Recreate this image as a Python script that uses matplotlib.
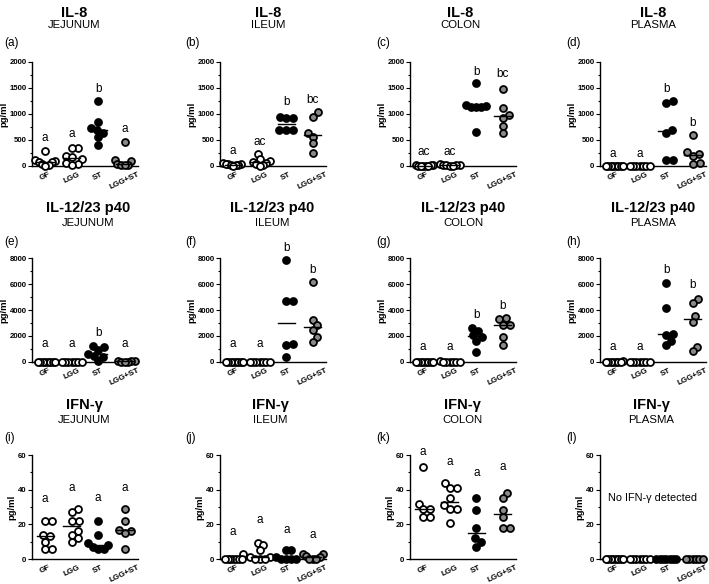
"""Cytokine dot plots, 3 x 4 panels"""

import numpy as np
import matplotlib
matplotlib.use('Agg')
import matplotlib.pyplot as plt
from matplotlib.ticker import AutoMinorLocator

plt.rcParams['font.family'] = ['Liberation Sans', 'DejaVu Sans']

groups = ['GF', 'LGG', 'ST', 'LGG+ST']
cytokines = ['IL-8', 'IL-12/23 p40', 'IFN-\u03b3']
sites = ['JEJUNUM', 'ILEUM', 'COLON', 'PLASMA']
panel_ids = list('abcdefghijkl')
y_ticks = [[0, 500, 1000, 1500, 2000],
           [0, 2000, 4000, 6000, 8000],
           [0, 20, 40, 60]]

# IL-8 (pg/ml)
il8_jejunum = [[290, 110, 100, 80, 70, 40, 10, 0],
               [350, 340, 190, 170, 130, 60, 40, 10],
               [1250, 840, 730, 700, 640, 550, 400],
               [470, 120, 100, 30, 25, 20, 10]]
il8_ileum = [[50, 40, 30, 30, 20, 10, 10, 0],
             [240, 130, 90, 80, 60, 30, 10, 0],
             [950, 930, 930, 700, 700, 700],
             [1030, 950, 630, 565, 435, 245]]
il8_colon = [[20, 10, 10, 5, 0, 0, 0, 0],
             [30, 20, 20, 10, 10, 0, 0],
             [1600, 1170, 1150, 1140, 1130, 1130, 660],
             [1480, 1125, 985, 925, 775, 630]]
il8_plasma = [[0, 0, 0, 0, 0, 0, 0, 0],
              [0, 0, 0, 0, 0, 0, 0],
              [1250, 1210, 700, 640, 125, 125],
              [600, 260, 230, 200, 50, 40]]

# IL-12/23 p40 (pg/ml)
p40_jejunum = [[0, 0, 0, 0, 0, 0, 0, 0],
               [0, 0, 0, 0, 0, 0, 0],
               [1200, 1150, 900, 650, 500, 400, 100],
               [100, 80, 50, 30, 20, 10]]
p40_ileum = [[0, 0, 0, 0, 0, 0, 0, 0],
             [0, 0, 0, 0, 0, 0, 0],
             [7850, 4720, 4700, 1370, 1270, 355],
             [6150, 3225, 2845, 2465, 1955, 1575]]
p40_colon = [[0, 0, 0, 0, 0, 0, 0, 0],
             [50, 0, 0, 0, 0, 0, 0],
             [2650, 2420, 2050, 1900, 1580, 740],
             [3420, 3290, 2860, 2850, 1960, 1330]]
p40_plasma = [[50, 0, 0, 0, 0, 0, 0, 0],
              [0, 0, 0, 0, 0, 0, 0],
              [6100, 4120, 2150, 2100, 1620, 1270],
              [4880, 4520, 3550, 3050, 1190, 810]]

# IFN-gamma (pg/ml)
ifn_jejunum = [[22, 22, 14, 13, 10, 6, 6],
               [29, 27, 22, 22, 16, 14, 12, 10],
               [22, 14, 9, 8, 7, 6, 6],
               [29, 22, 17, 16, 15, 6]]
ifn_ileum = [[3, 0, 0, 0, 0, 0, 0, 0],
             [9, 8, 5, 1, 1, 0, 0, 0],
             [5, 5, 1, 0, 0, 0, 0],
             [3, 3, 2, 1, 0, 0, 0]]
ifn_colon = [[53, 32, 29, 29, 24, 24],
             [44, 41, 41, 35, 31, 29, 29, 21],
             [35, 28, 18, 12, 10, 7],
             [38, 35, 28, 24, 18, 18]]
ifn_plasma = [[0, 0, 0, 0, 0, 0, 0, 0],
              [0, 0, 0, 0, 0, 0, 0],
              [0, 0, 0, 0, 0, 0, 0],
              [0, 0, 0, 0, 0, 0]]

panel_data = [il8_jejunum, il8_ileum, il8_colon, il8_plasma,
              p40_jejunum, p40_ileum, p40_colon, p40_plasma,
              ifn_jejunum, ifn_ileum, ifn_colon, ifn_plasma]

# significance letters and the height they were placed at
letters = [['a', 'a', 'b', 'a'], ['a', 'ac', 'b', 'bc'],
           ['ac', 'ac', 'b', 'bc'], ['a', 'a', 'b', 'b'],
           ['a', 'a', 'b', 'a'], ['a', 'a', 'b', 'b'],
           ['a', 'a', 'b', 'b'], ['a', 'a', 'b', 'b'],
           ['a', 'a', 'a', 'a'], ['a', 'a', 'a', 'a'],
           ['a', 'a', 'a', 'a'], None]
letter_y = [[540, 610, 1490, 720], [295, 455, 1225, 1275],
            [268, 268, 1815, 1765], [237, 237, 1490, 835],
            [1350, 1350, 2250, 1350], [1400, 1400, 8740, 7040],
            [1150, 1150, 3620, 4330], [1140, 1140, 7110, 5920],
            [34.4, 40.8, 35.0, 40.8], [15.5, 22.6, 16.5, 13.6],
            [61.5, 55.8, 49.7, 53.3], None]

FIG_W, FIG_H = 709, 584
AX_LEFT = [32, 220, 410, 600]
AX_TOP = [62, 258, 455]
AX_W, AX_H = 106, 104
TITLE_X = [[74, 268, 460, 653], [88, 272, 463, 653], [84, 270, 462, 651]]
TITLE_Y = [13, 208, 405]
SUB_Y = [25, 223, 420]
LABEL_X = [4, 185, 376, 566]
LABEL_Y = [43, 242, 438]
FACES = ['white', 'white', 'black', '#8a8a8a']


def swarm(vals, ymax, d=6.8, unit=AX_W / 4, limit=0.38):
    """Simple beeswarm offsets (in category units)"""
    ys = np.asarray(vals, float) / ymax * AX_H
    xs = np.zeros(len(ys))
    placed = []
    for i in np.argsort(ys, kind='stable'):
        y = ys[i]
        cands = [0.0]
        for px, py in placed:
            dy = y - py
            if abs(dy) < d:
                dx = np.sqrt(d ** 2 - dy ** 2)
                cands += [px + dx, px - dx]
        cands.sort(key=lambda c: (round(abs(c), 6), -c))
        for c in cands:
            if all((c - px) ** 2 + (y - py) ** 2 >= d ** 2 - 1e-6
                   for px, py in placed):
                xs[i] = c
                placed.append((c, y))
                break
    xs = xs / unit
    m = np.abs(xs).max()
    if m > limit:
        xs *= limit / m
    return xs


def fx(x):
    return x / FIG_W


def fy(y):
    return 1 - y / FIG_H


def main():
    fig = plt.figure(figsize=(FIG_W / 100, FIG_H / 100), dpi=100)

    for k, data in enumerate(panel_data):
        r, c = divmod(k, 4)
        ticks = y_ticks[r]
        ymax = ticks[-1]
        ax = fig.add_axes([fx(AX_LEFT[c]), fy(AX_TOP[r] + AX_H),
                           fx(AX_W), AX_H / FIG_H])

        for g, vals in enumerate(data):
            off = swarm(vals, ymax)
            ax.plot(g + off, vals, 'o', ms=5.0, mfc=FACES[g], mec='black',
                    mew=1.3, ls='none', clip_on=False, zorder=3)
            med = np.median(vals)
            if med > 0:
                ax.plot([g - 0.32, g + 0.32], [med, med], color='black',
                        lw=1.0, zorder=4, clip_on=False)
            if letters[k]:
                ax.text(g, letter_y[k][g], letters[k][g], ha='center',
                        va='center', fontsize=8.5, clip_on=False)

        ax.set_xlim(-0.5, 3.5)
        ax.set_ylim(0, ymax)
        ax.set_yticks(ticks)
        ax.yaxis.set_minor_locator(AutoMinorLocator(2))
        ax.set_xticks(range(4))
        ax.set_xticklabels(groups, rotation=25, ha='center',
                           fontsize=5.8, fontweight='bold')
        ax.tick_params(axis='x', length=0, pad=3.5)
        ax.tick_params(axis='y', which='major', length=3, width=0.8,
                       labelsize=5.6, pad=1)
        ax.tick_params(axis='y', which='minor', length=1.8, width=0.8)
        for lab in ax.get_yticklabels():
            lab.set_fontweight('bold')
        ax.set_ylabel('pg/ml', fontsize=6.8, fontweight='bold', labelpad=1)
        ax.spines['top'].set_visible(False)
        ax.spines['right'].set_visible(False)
        ax.spines['left'].set_linewidth(1.0)
        ax.spines['bottom'].set_linewidth(1.0)
        ax.patch.set_alpha(0)

        if k == 11:
            ax.text(1.5, 35, 'No IFN-\u03b3 detected', ha='center',
                    va='center', fontsize=7.8)

        fig.text(fx(TITLE_X[r][c]), fy(TITLE_Y[r]), cytokines[r],
                 ha='center', va='center', fontsize=10.5, fontweight='bold')
        fig.text(fx(TITLE_X[r][c]), fy(SUB_Y[r]), sites[c],
                 ha='center', va='center', fontsize=8.2)
        fig.text(fx(LABEL_X[c]), fy(LABEL_Y[r]), f'({panel_ids[k]})',
                 ha='left', va='center', fontsize=8.5)

    fig.savefig('out.png', dpi=100, facecolor='white')


if __name__ == "__main__":
    main()
